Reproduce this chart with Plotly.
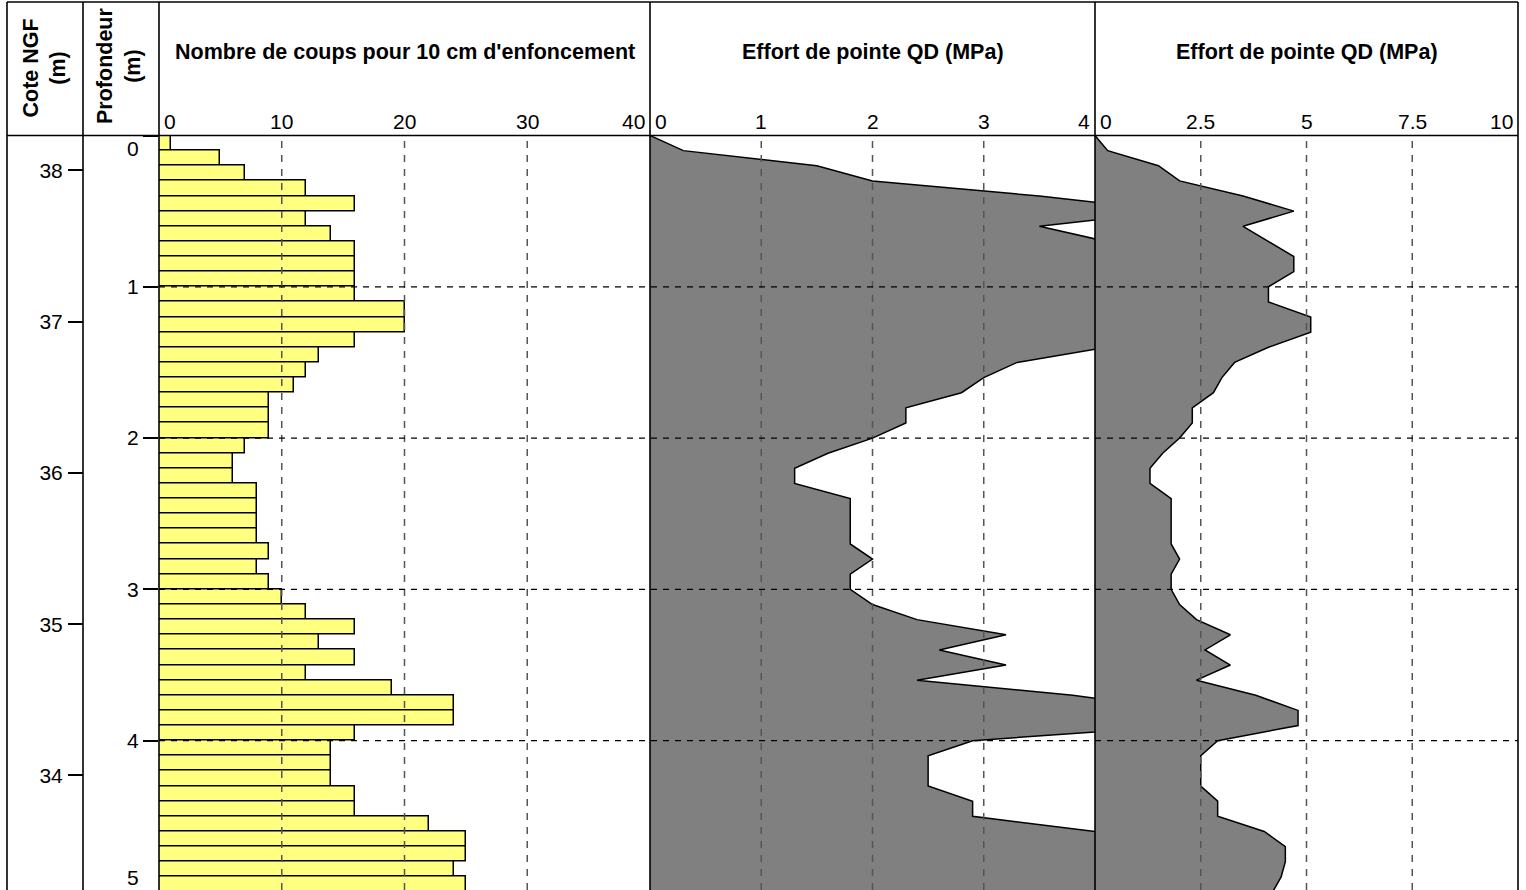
import plotly.graph_objects as go

# ---------------- data ----------------
DEPTH_TOP = [round(i * 0.1, 1) for i in range(50)]          # top of each 10 cm step (m)
BLOWS = [1, 5, 7, 12, 16, 12, 14, 16, 16, 16,
         16, 20, 20, 16, 13, 12, 11, 9, 9, 9,
         7, 6, 6, 8, 8, 8, 8, 9, 8, 9,
         10, 12, 16, 13, 16, 12, 19, 24, 24, 16,
         14, 14, 14, 16, 16, 22, 25, 25, 24, 25]

QD_DEPTH = [round(i * 0.1, 1) for i in range(51)]
QD = [0.0, 0.3, 1.5, 2.0, 3.5, 4.7, 3.5, 4.1, 4.7, 4.7,
      4.1, 4.1, 5.1, 5.1, 4.1, 3.3, 3.0, 2.8, 2.3, 2.3,
      2.0, 1.6, 1.3, 1.3, 1.8, 1.8, 1.8, 1.8, 2.0, 1.8,
      1.8, 2.0, 2.4, 3.2, 2.6, 3.2, 2.4, 3.8, 4.8, 4.8,
      2.9, 2.5, 2.5, 2.5, 2.9, 2.9, 4.0, 4.5, 4.5, 4.4, 4.2]

GROUND_NGF = 38.23
COTE_TICKS = [38, 37, 36, 35, 34]
DEPTH_TICKS = [0, 1, 2, 3, 4, 5]
BLOW_TICKS = [0, 10, 20, 30, 40]
QD1_TICKS = [0, 1, 2, 3, 4]
QD2_TICKS = [0, 2.5, 5, 7.5, 10]

TITLE_BLOWS = "Nombre de coups pour 10 cm d'enfoncement"
TITLE_QD = "Effort de pointe QD (MPa)"
TITLE_COTE = "Cote NGF<br>(m)"
TITLE_DEPTH = "Profondeur<br>(m)"

# ---------------- layout helpers ----------------
W, H = 1526, 890
VIEW_DEPTH = 4.987
FONT = "Liberation Sans, Arial, sans-serif"
FS = 21          # tick labels
FT = 21.5        # titles


def px(x):
    return x / W


def py(y):
    return 1 - y / H


X_COTE, X_DEPTH, X_P1, X_P2, X_P3, X_END = 7, 83, 159, 650, 1095, 1518
Y_TOP, Y_HEAD = 2, 135.5

fig = go.Figure()

fig.add_trace(go.Bar(
    x=BLOWS, y=DEPTH_TOP, orientation="h", width=0.1, offset=0,
    marker=dict(color="#FFFF80", line=dict(color="black", width=1.5)),
    xaxis="x", yaxis="y", hoverinfo="skip"))

for ax in ("x2", "x3"):
    fig.add_trace(go.Scatter(
        x=QD, y=QD_DEPTH, mode="lines", fill="tozerox", fillcolor="#808080",
        line=dict(color="black", width=1.5), xaxis=ax, yaxis="y", hoverinfo="skip"))

# invisible carrier for the NGF elevation axis
fig.add_trace(go.Scatter(x=[0] * len(COTE_TICKS), y=COTE_TICKS, mode="markers",
                         marker=dict(opacity=0), xaxis="x", yaxis="y4", hoverinfo="skip"))

xcommon = dict(showgrid=False, zeroline=False, showticklabels=False, ticks="",
               showline=False, anchor="y", fixedrange=True)

layout = dict(
    width=W, height=H, margin=dict(l=0, r=0, t=0, b=0),
    paper_bgcolor="white", plot_bgcolor="white", showlegend=False,
    font=dict(family=FONT, size=FS, color="black"),
    bargap=0,
    xaxis=dict(domain=[px(X_P1), px(X_P2)], range=[0, 40], **xcommon),
    xaxis2=dict(domain=[px(X_P2), px(X_P3)], range=[0, 4], **xcommon),
    xaxis3=dict(domain=[px(X_P3), px(X_END)], range=[0, 10], **xcommon),
    yaxis=dict(domain=[0, py(Y_HEAD)], range=[VIEW_DEPTH, 0], anchor="x",
               tickvals=DEPTH_TICKS,
               ticktext=["" if d in (0, 5) else str(d) for d in DEPTH_TICKS],
               ticks="outside", ticklen=15, tickwidth=1.5, tickcolor="black",
               showgrid=False, zeroline=False, showline=False,
               tickfont=dict(size=FS), ticklabelstandoff=0),
    yaxis4=dict(overlaying="y", anchor="free", position=px(X_DEPTH), side="left",
                range=[GROUND_NGF - VIEW_DEPTH, GROUND_NGF],
                tickvals=COTE_TICKS, ticktext=[str(c) for c in COTE_TICKS],
                ticks="outside", ticklen=15, tickwidth=1.5, tickcolor="black",
                showgrid=False, zeroline=False, showline=False,
                tickfont=dict(size=FS), ticklabelstandoff=1),
)
fig.update_layout(**layout)

shapes = []
# vertical dashed grid (gray) in each panel
for ax, ticks in (("x", BLOW_TICKS), ("x2", QD1_TICKS), ("x3", QD2_TICKS)):
    for v in ticks[1:-1]:
        shapes.append(dict(type="line", xref=ax, yref="y domain", x0=v, x1=v, y0=0, y1=1,
                           line=dict(color="#555555", width=1.5, dash="7px,7px"), layer="above"))
# horizontal dashed grid (black) across the three panels
for d in DEPTH_TICKS:
    if 0 < d < VIEW_DEPTH:
        shapes.append(dict(type="line", xref="paper", yref="y", x0=px(X_P1), x1=px(X_END),
                           y0=d, y1=d, line=dict(color="black", width=1.2, dash="6px,6px"),
                           layer="above"))
# frame
frame = dict(color="black", width=1.6)
shapes.append(dict(type="line", xref="paper", yref="paper", x0=px(X_COTE), x1=px(X_END),
                   y0=py(Y_TOP), y1=py(Y_TOP), line=frame, layer="above"))
shapes.append(dict(type="line", xref="paper", yref="paper", x0=px(X_COTE), x1=px(X_END),
                   y0=py(Y_HEAD), y1=py(Y_HEAD), line=frame, layer="above"))
for xv in (X_COTE, X_DEPTH, X_P1, X_P2, X_P3, X_END):
    shapes.append(dict(type="line", xref="paper", yref="paper", x0=px(xv), x1=px(xv),
                       y0=0, y1=py(Y_TOP), line=frame, layer="above"))
fig.update_layout(shapes=shapes)

ann = []
# panel titles
for x0, x1, t in ((X_P1, X_P2, TITLE_BLOWS), (X_P2, X_P3, TITLE_QD), (X_P3, X_END, TITLE_QD)):
    ann.append(dict(text="<b>%s</b>" % t, xref="paper", yref="paper", x=px((x0 + x1) / 2),
                    y=py(52), xanchor="center", yanchor="middle", showarrow=False,
                    font=dict(size=FT)))
# top tick labels
for ax, ticks in (("x", BLOW_TICKS), ("x2", QD1_TICKS), ("x3", QD2_TICKS)):
    for i, v in enumerate(ticks):
        if i == 0:
            xa, xs = "left", 3
        elif i == len(ticks) - 1:
            xa, xs = "right", -3
        else:
            xa, xs = "center", 0
        ann.append(dict(text=("%g" % v), xref=ax, yref="paper", x=v, y=py(122),
                        xanchor=xa, yanchor="middle", xshift=xs, showarrow=False,
                        font=dict(size=FS)))
# rotated column headers
ann.append(dict(text="<b>%s</b>" % TITLE_COTE, xref="paper", yref="paper",
                x=px(44), y=py(120), xanchor="center", yanchor="bottom",
                textangle=-90, showarrow=False, align="center", font=dict(size=FT)))
ann.append(dict(text="<b>%s</b>" % TITLE_DEPTH, xref="paper", yref="paper",
                x=px(119), y=py(126), xanchor="center", yanchor="bottom",
                textangle=-90, showarrow=False, align="center", font=dict(size=FT)))
# depth labels at the panel edges (0 at top, 5 at bottom), nudged inside
ann.append(dict(text="0", xref="paper", yref="y", x=px(141), y=0, xanchor="right",
                yanchor="middle", yshift=-13, showarrow=False, font=dict(size=FS)))
ann.append(dict(text="5", xref="paper", yref="paper", x=px(141), y=0, xanchor="right",
                yanchor="bottom", yshift=-1, showarrow=False, font=dict(size=FS)))
fig.update_layout(annotations=ann)

fig.write_html("out.html")
